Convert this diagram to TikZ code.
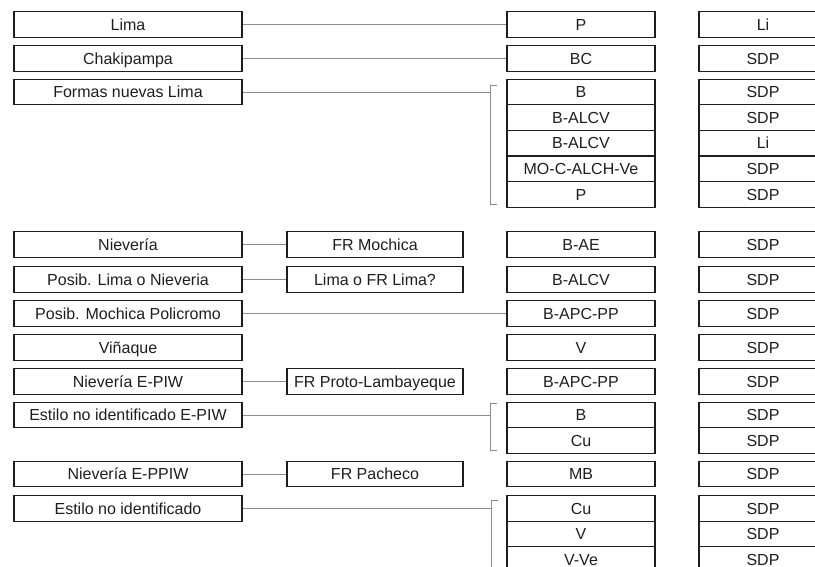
\documentclass[tikz,border=0pt]{standalone}
\usepackage{fontspec}
\setmainfont{Liberation Sans}
\usepackage{tikz}
\usepackage{xcolor}
\usetikzlibrary{positioning, calc}

\definecolor{boxline}{HTML}{1E1E1E}
\definecolor{linkgray}{HTML}{8C8C8C}

\begin{document}
\begin{tikzpicture}[
    x=1pt, y=-1pt,
    every node/.style={font=\fontsize{16}{19}\selectfont, text=boxline},
    cell/.style={draw=boxline, line width=1.3pt, rectangle, inner sep=0pt, minimum height=25.6pt, text height=11.4pt, text depth=0pt, align=center},
    stylebox/.style={cell, minimum width=228pt},
    frbox/.style={cell, minimum width=176pt},
    codebox/.style={cell, minimum width=148pt},
    srcbox/.style={cell, minimum width=128pt},
    link/.style={draw=linkgray, line width=0.9pt}
]
    \useasboundingbox (0,0) rectangle (815,566);
    \clip (0,0) rectangle (815,566);

    % Styles (left column)
    \node[stylebox] (lima) at (128,24.5) {Lima};
    \node[stylebox] (chaki) at (128,58.5) {Chakipampa};
    \node[stylebox] (formas) at (128,92) {Formas nuevas Lima};
    \node[stylebox] (nieveria) at (128,244.5) {Nievería};
    \node[stylebox] (posiblima) at (128,279.5) {Posib. Lima o Nieveria};
    \node[stylebox] (posibmochica) at (128,313.5) {Posib. Mochica Policromo};
    \node[stylebox] (vinaque) at (128,347.5) {Viñaque};
    \node[stylebox] (nievpiw) at (128,381.5) {Nievería E-PIW};
    \node[stylebox] (estilopiw) at (128,415) {Estilo no identificado E-PIW};
    \node[stylebox] (nievppiw) at (128,474) {Nievería E-PPIW};
    \node[stylebox] (estilo) at (128,508.5) {Estilo no identificado};

    % Foreign relations
    \node[frbox] (frmochica) at (375,244.5) {FR Mochica};
    \node[frbox] (frlima) at (375,279.5) {Lima o FR Lima?};
    \node[frbox] (frproto) at (375,381.5) {FR Proto-Lambayeque};
    \node[frbox] (frpacheco) at (375,474) {FR Pacheco};

    % Codes
    \node[codebox] (p1) at (581,24.5) {P};
    \node[codebox] (bc) at (581,58.5) {BC};
    \node[codebox] (b1) at (581,92) {B};
    \node[codebox] (balcv1) at (581,117.6) {B-ALCV};
    \node[codebox] (balcv2) at (581,143.2) {B-ALCV};
    \node[codebox] (mocalch) at (581,168.8) {MO-C-ALCH-Ve};
    \node[codebox] (p2) at (581,194.4) {P};
    \node[codebox] (bae) at (581,244.5) {B-AE};
    \node[codebox] (balcv3) at (581,279.5) {B-ALCV};
    \node[codebox] (bapc1) at (581,313.5) {B-APC-PP};
    \node[codebox] (v1) at (581,347.5) {V};
    \node[codebox] (bapc2) at (581,381.5) {B-APC-PP};
    \node[codebox] (b2) at (581,415) {B};
    \node[codebox] (cu1) at (581,440.6) {Cu};
    \node[codebox] (mb) at (581,474) {MB};
    \node[codebox] (cu2) at (581,508.5) {Cu};
    \node[codebox] (v2) at (581,534) {V};
    \node[codebox] (vve) at (581,559.3) {V-Ve};

    % Sources (right column, cut at the edge)
    \node[srcbox] (s1) at (763,24.5) {Li};
    \node[srcbox] (s2) at (763,58.5) {SDP};
    \node[srcbox] (s3) at (763,92) {SDP};
    \node[srcbox] (s4) at (763,117.6) {SDP};
    \node[srcbox] (s5) at (763,143.2) {Li};
    \node[srcbox] (s6) at (763,168.8) {SDP};
    \node[srcbox] (s7) at (763,194.4) {SDP};
    \node[srcbox] (s8) at (763,244.5) {SDP};
    \node[srcbox] (s9) at (763,279.5) {SDP};
    \node[srcbox] (s10) at (763,313.5) {SDP};
    \node[srcbox] (s11) at (763,347.5) {SDP};
    \node[srcbox] (s12) at (763,381.5) {SDP};
    \node[srcbox] (s13) at (763,415) {SDP};
    \node[srcbox] (s14) at (763,440.6) {SDP};
    \node[srcbox] (s15) at (763,474) {SDP};
    \node[srcbox] (s16) at (763,508.5) {SDP};
    \node[srcbox] (s17) at (763,534) {SDP};
    \node[srcbox] (s18) at (763,559.3) {SDP};

    % Brackets
    \coordinate (k1top) at (490,85);
    \coordinate (k1bot) at (490,204);
    \coordinate (k2top) at (490,403);
    \coordinate (k2bot) at (490,450);
    \coordinate (k3top) at (491,500);
    \coordinate (k3bot) at (491,600);
    \draw[link] ([xshift=7pt]k1top) -- (k1top) -- (k1bot) -- ([xshift=7pt]k1bot);
    \draw[link] ([xshift=7pt]k2top) -- (k2top) -- (k2bot) -- ([xshift=7pt]k2bot);
    \draw[link] ([xshift=7pt]k3top) -- (k3top) -- (k3bot);

    % Connectors
    \draw[link] (lima) -- (p1);
    \draw[link] (chaki) -- (bc);
    \draw[link] (formas.east) -- (formas.east -| k1top);
    \draw[link] (nieveria) -- (frmochica);
    \draw[link] (posiblima) -- (frlima);
    \draw[link] (posibmochica) -- (bapc1);
    \draw[link] (nievpiw) -- (frproto);
    \draw[link] (estilopiw.east) -- (estilopiw.east -| k2top);
    \draw[link] (nievppiw) -- (frpacheco);
    \draw[link] (estilo.east) -- (estilo.east -| k3top);

\end{tikzpicture}
\end{document}
